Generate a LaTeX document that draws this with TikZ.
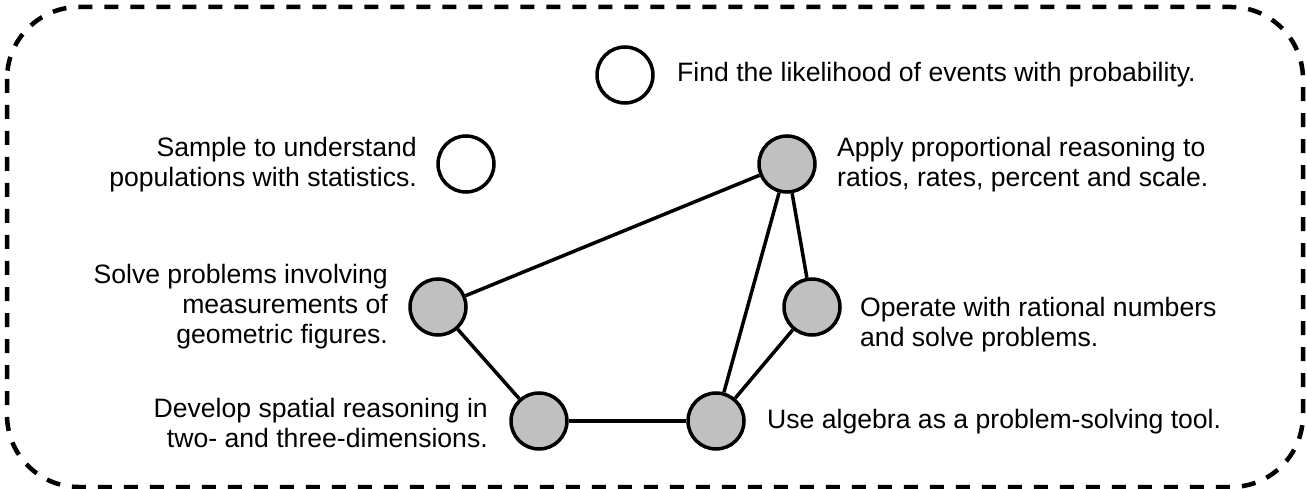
\documentclass[tikz,border=0pt]{standalone}
\usepackage{fontspec}
\setmainfont{Liberation Sans}
\definecolor{silverfill}{HTML}{C0C0C0}
\begin{document}
\begin{tikzpicture}[x=1pt,y=-1pt,
  goal/.style={circle,draw=black,line width=3.5pt,minimum size=56pt,inner sep=0pt},
  reached/.style={goal,fill=silverfill},
  open/.style={goal,fill=white},
  caption/.style={inner sep=0pt,font=\fontsize{26.6}{30}\selectfont},
  leftcap/.style={caption,anchor=east,align=right},
  rightcap/.style={caption,anchor=west,align=left},
  link/.style={line width=3.5pt},
  frame/.style={line width=4.5pt,dash pattern=on 14pt off 12pt,rounded corners=72pt}]
  \useasboundingbox (0,0) rectangle (1307,489);

  % dashed frame around the whole map
  \draw[frame] (7,7) rectangle (1303,487);

  % goals
  \node[open]    (prob) at (625,75)  {};
  \node[open]    (stat) at (466,164) {};
  \node[reached] (prop) at (787,164) {};
  \node[reached] (geo)  at (438,307) {};
  \node[reached] (rat)  at (812,307) {};
  \node[reached] (spat) at (539,421) {};
  \node[reached] (alg)  at (716,421) {};

  % captions
  \node[rightcap] (probtext) at (677,75)  {Find the likelihood of events with probability.};
  \node[leftcap]  (stattext) at (417,165) {Sample to understand\\populations with statistics.};
  \node[rightcap] (proptext) at (837,165) {Apply proportional reasoning to\\ratios, rates, percent and scale.};
  \node[leftcap]  (geotext)  at (388,307) {Solve problems involving\\measurements of\\geometric figures.};
  \node[rightcap] (rattext)  at (860,325) {Operate with rational numbers\\and solve problems.};
  \node[leftcap]  (spattext) at (488,423) {Develop spatial reasoning in\\two- and three-dimensions.};
  \node[rightcap] (algtext)  at (767,422) {Use algebra as a problem-solving tool.};

  % connections between reached goals
  \draw[link] (geo) -- (prop);
  \draw[link] (prop) -- (alg);
  \draw[link] (prop) -- (rat);
  \draw[link] (rat) -- (alg);
  \draw[link] (geo) -- (spat);
  \draw[link] (spat) -- (alg);
\end{tikzpicture}
\end{document}
